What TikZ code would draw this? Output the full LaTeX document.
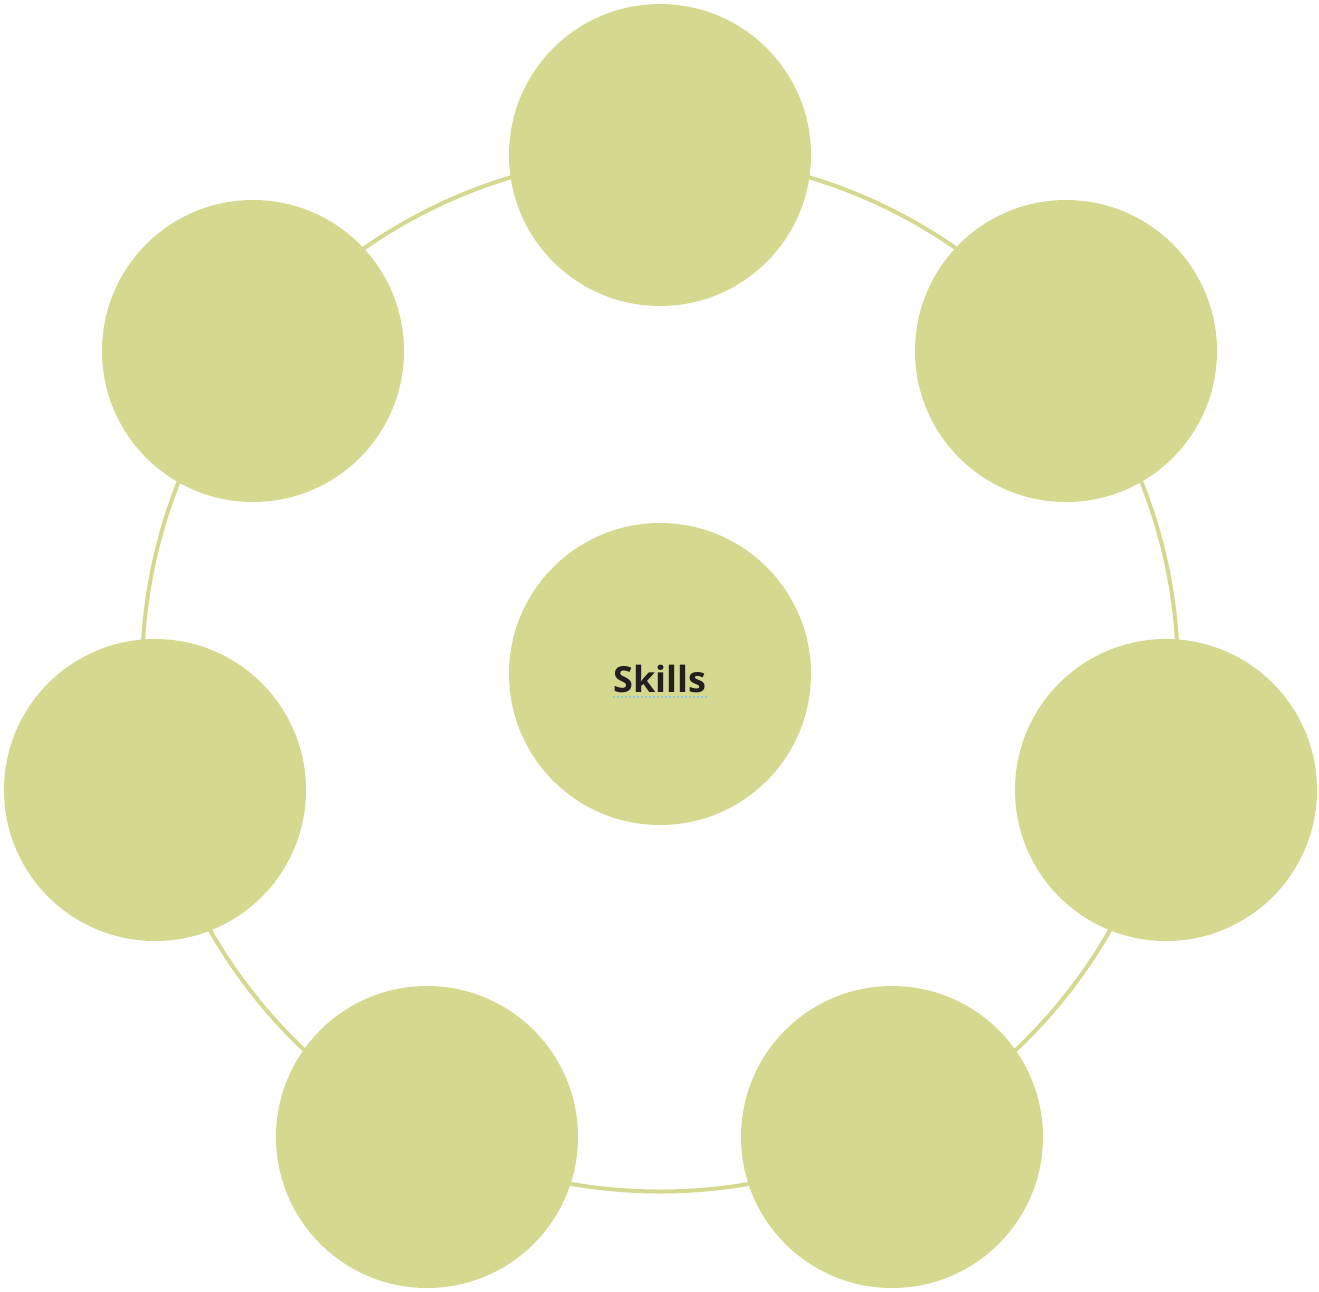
\documentclass[tikz,border=0pt]{standalone}
\usepackage{fontspec}
\setmainfont{Open Sans}
\definecolor{leaf}{RGB}{212,217,143}
\definecolor{ink}{RGB}{35,31,32}
\definecolor{spell}{RGB}{140,205,215}
\begin{document}
\begin{tikzpicture}[x=0.5pt,y=-0.5pt,
  bubble/.style={circle,fill=leaf,minimum size=151pt,inner sep=0pt,outer sep=0pt},
  ringline/.style={draw=leaf,line width=2pt}]
\useasboundingbox (0,0) rectangle (1319,1292);
\coordinate (hub) at (660,673.5);
\draw[ringline] (hub) circle[radius=259pt];
\node[bubble] (top) at (660,155) {};
\node[bubble] (ur) at (1066,351) {};
\node[bubble] (ul) at (253,351) {};
\node[bubble] (r) at (1166,790) {};
\node[bubble] (l) at (155,790) {};
\node[bubble] (bl) at (427,1137) {};
\node[bubble] (br) at (892,1137) {};
\node[bubble] (c) at (660,674) {};
\node[text=ink,font=\fontsize{18}{22}\selectfont\bfseries,inner sep=0pt] (lbl) at (660,679) {Skills};
\draw[spell,line width=1pt,dash pattern=on 1pt off 1pt] (613,697) -- (708,697);
\end{tikzpicture}
\end{document}
